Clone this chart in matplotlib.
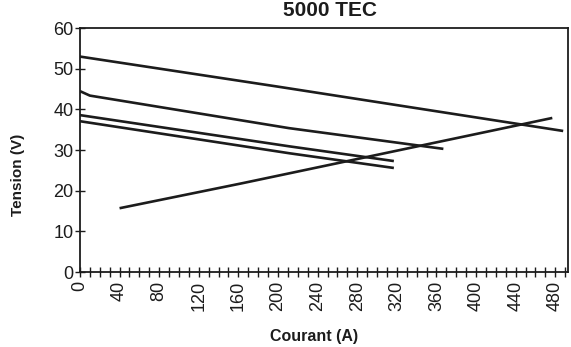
import matplotlib
matplotlib.use("Agg")
import matplotlib.pyplot as plt
from matplotlib.ticker import MultipleLocator

plt.rcParams["font.family"] = ["Liberation Sans", "DejaVu Sans"]

# Tension/courant curves for the 5000 TEC unit
courant_1 = [0, 200, 488]
tension_1 = [53.0, 45.6, 34.7]

courant_2 = [0, 10, 211, 367]
tension_2 = [44.5, 43.4, 35.4, 30.3]

courant_3 = [0, 212, 317]
tension_3 = [38.6, 30.9, 27.3]

courant_4 = [0, 212, 317]
tension_4 = [37.1, 29.2, 25.6]

courant_5 = [40, 163, 477]
tension_5 = [15.7, 21.8, 37.9]

x_major_ticks = list(range(0, 481, 40))
y_ticks = list(range(0, 61, 10))

fig = plt.figure(figsize=(5.71, 3.47), dpi=100)
ax = fig.add_axes([0.140, 0.216, 0.855, 0.703])

ink = "#1c1c1c"
for xs, ys in [(courant_1, tension_1), (courant_2, tension_2),
               (courant_3, tension_3), (courant_4, tension_4),
               (courant_5, tension_5)]:
    ax.plot(xs, ys, color=ink, lw=1.9, solid_capstyle="butt")

ax.set_xlim(0, 493)
ax.set_ylim(0, 60)

ax.set_xticks(x_major_ticks)
ax.xaxis.set_minor_locator(MultipleLocator(10))
ax.set_yticks(y_ticks)

ax.tick_params(axis="both", which="both", direction="inout", length=7,
               width=1.0, color=ink, labelsize=13, labelcolor=ink)
ax.tick_params(axis="x", which="major", labelrotation=90, pad=3)
ax.tick_params(axis="y", which="major", pad=1)

for s in ax.spines.values():
    s.set_linewidth(1.3)
    s.set_color(ink)

ax.set_xlabel("Courant (A)", fontsize=11.5, fontweight="bold", color=ink)
ax.set_ylabel("Tension (V)", fontsize=11, fontweight="bold", color=ink)
ax.xaxis.set_label_coords(0.48, -0.235)
ax.yaxis.set_label_coords(-0.113, 0.40)

fig.text(0.578, 0.955, "5000 TEC", fontsize=15, fontweight="bold",
         color=ink, ha="center", va="baseline")

fig.savefig("out.png", dpi=100, facecolor="white")
